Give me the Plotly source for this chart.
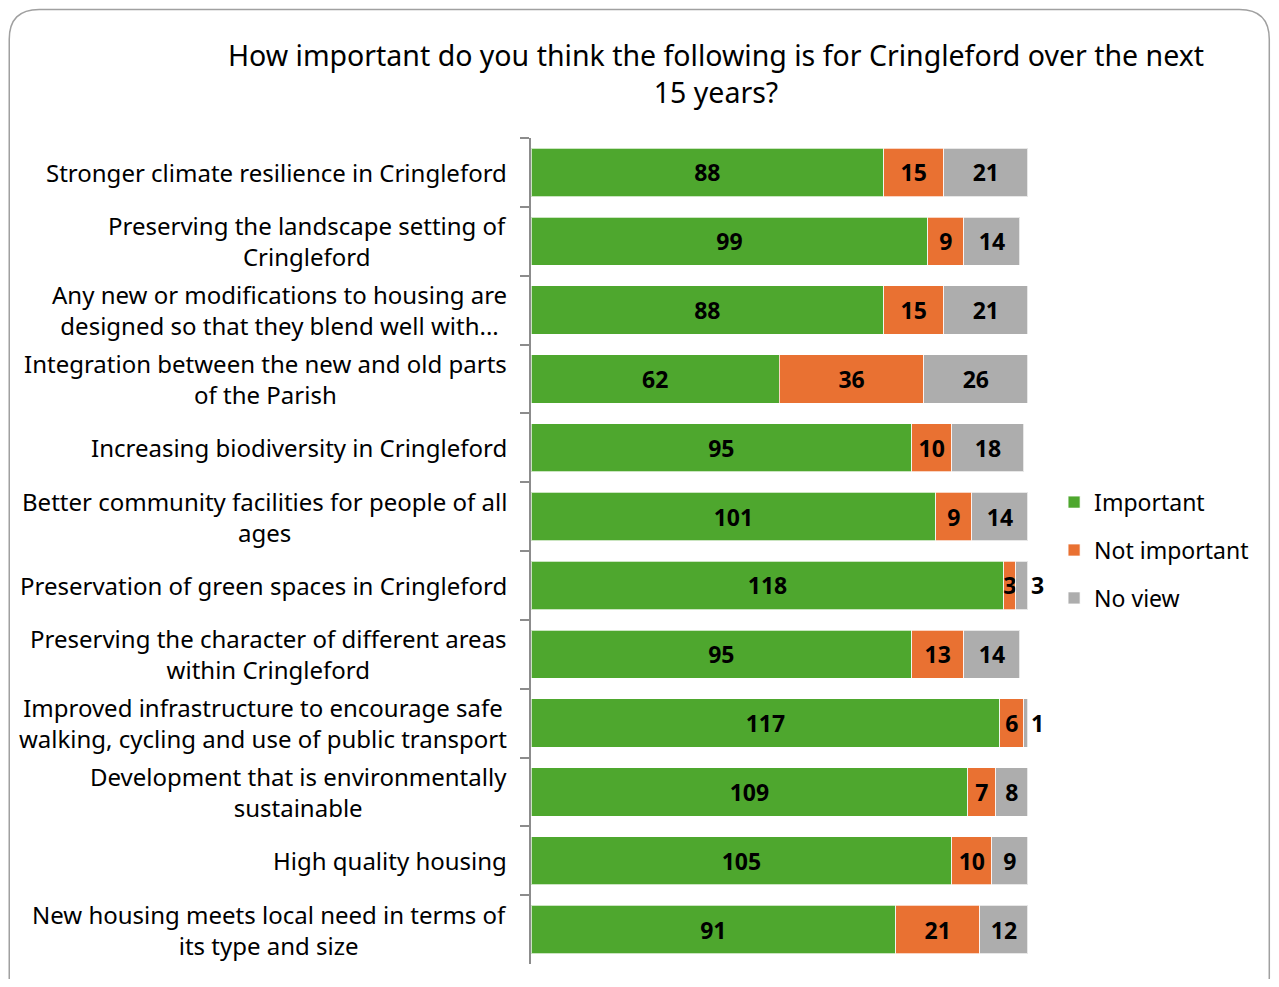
import plotly.graph_objects as go

categories = [
    "Stronger climate resilience in Cringleford",
    "Preserving the landscape setting of<br>Cringleford",
    "Any new or modifications to housing are<br>designed so that they blend well with...",
    "Integration between the new and old parts<br>of the Parish",
    "Increasing biodiversity in Cringleford",
    "Better community facilities for people of all<br>ages",
    "Preservation of green spaces in Cringleford",
    "Preserving the character of different areas<br>within Cringleford",
    "Improved infrastructure to encourage safe<br>walking, cycling and use of public transport",
    "Development that is environmentally<br>sustainable",
    "High quality housing",
    "New housing meets local need in terms of<br>its type and size",
]
important = [88, 99, 88, 62, 95, 101, 118, 95, 117, 109, 105, 91]
not_important = [15, 9, 15, 36, 10, 9, 3, 13, 6, 7, 10, 21]
no_view = [21, 14, 21, 26, 18, 14, 3, 14, 1, 8, 9, 12]

series = [
    ("Important", important, "#4EA72E"),
    ("Not important", not_important, "#E97132"),
    ("No view", no_view, "#ADADAD"),
]

FONT = "Noto Sans"
W, H = 1263, 971          # page body has an 8px margin
L, T = 523, 129.5
PW, PH = 521.5, 827

fig = go.Figure()
for name, vals, color in series:
    if name == "No view":
        pos = ["outside" if v <= 3 else "inside" for v in vals]
    else:
        pos = ["inside"] * len(vals)
    fig.add_trace(go.Bar(
        y=categories, x=vals, name=name, orientation="h",
        marker=dict(color=color, line=dict(color="rgba(255,255,255,0.7)", width=1)),
        text=[str(v) for v in vals], textposition=pos,
        insidetextanchor="middle", constraintext="none",
        textfont=dict(family=FONT, size=23, color="black", weight="bold"),
        outsidetextfont=dict(family=FONT, size=23, color="black", weight="bold"),
        cliponaxis=False, legendgroup=name,
    ))

for c in categories:
    fig.add_annotation(
        x=0, xref="paper", xanchor="right", xshift=-22,
        y=c, yref="y", text=c, showarrow=False, align="center",
        font=dict(family=FONT, size=24, color="black"),
    )

# rounded border
x0, x1 = (0.75 - L) / PW, (W - 1 - L) / PW
y0, y1 = (T + PH - 1000) / PH, (T + PH - 0.75) / PH
rx, ry = 30 / PW, 30 / PH
path = (f"M {x0+rx},{y1} L {x1-rx},{y1} Q {x1},{y1} {x1},{y1-ry} "
        f"L {x1},{y0+ry} Q {x1},{y0} {x1-rx},{y0} L {x0+rx},{y0} "
        f"Q {x0},{y0} {x0},{y0+ry} L {x0},{y1-ry} Q {x0},{y1} {x0+rx},{y1} Z")
fig.add_shape(type="path", xref="paper", yref="paper", path=path,
              line=dict(color="#A0A0A0", width=1.5), layer="below")

fig.update_layout(
    width=W, height=H,
    barmode="stack", bargap=0.30,
    paper_bgcolor="white", plot_bgcolor="white",
    margin=dict(l=L, r=W - L - PW, t=T, b=H - T - PH, pad=0),
    title=dict(
        text="How important do you think the following is for Cringleford over the next<br>15 years?",
        x=708 / W, xref="container", xanchor="center",
        y=1 - 57.5 / H, yref="container", yanchor="middle",
        font=dict(family=FONT, size=28.5, color="black"),
    ),
    xaxis=dict(range=[0, 130], visible=False, fixedrange=True),
    yaxis=dict(
        autorange="reversed", showticklabels=False,
        showline=True, linecolor="#8C8C8C", linewidth=1.5,
        ticks="outside", tickson="boundaries", ticklen=9,
        tickcolor="#8C8C8C", tickwidth=1.5, showgrid=False,
    ),
    legend=dict(
        x=1.004, xanchor="left", y=0.501, yanchor="middle",
        font=dict(family=FONT, size=23, color="black"),
        tracegroupgap=15, itemwidth=30, traceorder="grouped",
    ),
    showlegend=True,
)

fig.write_html("out.html")
